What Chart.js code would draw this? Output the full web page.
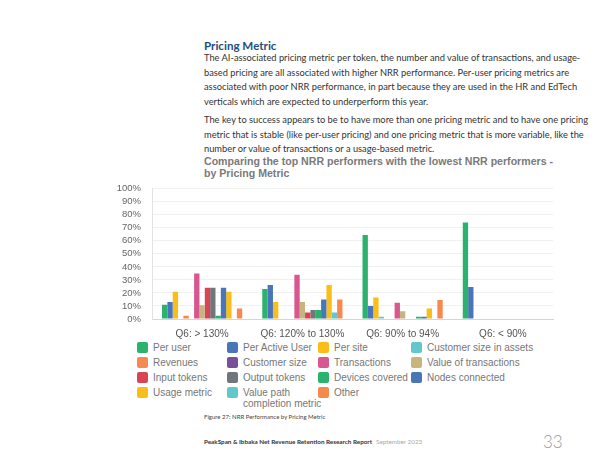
<!DOCTYPE html>
<html>
<head>
<meta charset="utf-8">
<script src="https://cdn.jsdelivr.net/npm/chart.js@4.4.1/dist/chart.umd.min.js"></script>
<style>
  body { margin: 0; background: #fff; }
  #page { position: relative; width: 600px; height: 463px; overflow: hidden; font-family: Lato, "Open Sans", sans-serif; }
  .abs { position: absolute; white-space: nowrap; }
  #heading { left: 204px; top: 39px; font-size: 11.6px; line-height: 14px; font-weight: bold; color: #1d4f7f; }
  .para { left: 204px; font-size: 9.3px; line-height: 14.6px; color: #333; }
  #chartTitle { left: 204px; top: 155px; font-family: "Liberation Sans", Arial, sans-serif; font-size: 10.6px; line-height: 12px; font-weight: bold; color: #7a7a7a; }
  #wrap { position: absolute; left: 100px; top: 172px; width: 460px; height: 170px; }
  .lg { position: absolute; display: flex; align-items: flex-start; font-family: "Liberation Sans", Arial, sans-serif; font-size: 10px; line-height: 11px; color: #777; }
  .lg .sw { width: 11px; height: 11px; border-radius: 2px; flex: none; margin-right: 5px; }
  .lg .tx { white-space: normal; }
  #caption { left: 204px; top: 413px; font-size: 6px; line-height: 8px; color: #444; }
  #footer { left: 204px; top: 438px; font-size: 6.3px; line-height: 8px; color: #333; font-weight: bold; }
  #footer span { font-weight: normal; color: #aaa; margin-left: 4px; }
  #pageNo { left: 543px; top: 432px; font-size: 17px; line-height: 20px; color: #999; font-weight: 300; }
</style>
</head>
<body>
<div id="page">
  <div id="heading" class="abs">Pricing Metric</div>
  <div class="abs para" style="top:51px">The AI-associated pricing metric per token, the number and value of transactions, and usage-<br>based pricing are all associated with higher NRR performance. Per-user pricing metrics are<br>associated with poor NRR performance, in part because they are used in the HR and EdTech<br>verticals which are expected to underperform this year.</div>
  <div class="abs para" style="top:113px">The key to success appears to be to have more than one pricing metric and to have one pricing<br>metric that is stable (like per-user pricing) and one pricing metric that is more variable, like the<br>number or value of transactions or a usage-based metric.</div>
  <div id="chartTitle" class="abs">Comparing the top NRR performers with the lowest NRR performers -<br>by Pricing Metric</div>
  <div id="wrap"><canvas id="chart"></canvas></div>
  <div id="legend"></div>
  <div id="caption" class="abs">Figure 27: NRR Performance by Pricing Metric</div>
  <div id="footer" class="abs">PeakSpan &amp; Ibbaka Net Revenue Retention Research Report<span>September 2023</span></div>
  <div id="pageNo" class="abs">33</div>
</div>
<script>
// Categories (NRR groups)
const categories = ["Q6: > 130%", "Q6: 120% to 130%", "Q6: 90% to 94%", "Q6: < 90%"];

// Pricing metrics (series)
const metrics = [
  "Per user", "Per Active User", "Per site", "Customer size in assets",
  "Revenues", "Customer size", "Transactions", "Value of transactions",
  "Input tokens", "Output tokens", "Devices covered", "Nodes connected",
  "Usage metric", "Value path completion metric", "Other",
];
const metricColors = [
  "#2bb26c", "#4a76b9", "#fbbd18", "#62c7cc",
  "#f5894f", "#794f99", "#d9578f", "#c8b47f",
  "#d94455", "#6f777d", "#2bb26c", "#4a76b9",
  "#fbbd18", "#62c7cc", "#f5894f",
];

// Share of respondents (%) per metric, one array per NRR group
const gt130 = [11, 13, 21, 0, 2.5, 0, 35, 10.5, 24, 24, 2.5, 24, 21, 0, 8];
const from120to130 = [23, 26, 13, 0, 0, 0, 34, 13, 5, 7, 7, 15, 26, 5, 15];
const from90to94 = [64.5, 10, 16.5, 1.7, 0, 0, 12.5, 6, 0, 0, 1.7, 1.7, 8, 0, 14.5];
const lt90 = [74, 24.5, 0, 0, 0, 0, 0, 0, 0, 0, 0, 0, 0, 0, 0];

const groups = [gt130, from120to130, from90to94, lt90];

Chart.defaults.font.family = '"Liberation Sans", Arial, sans-serif';

const datasets = metrics.map((label, i) => ({
  label: label,
  data: groups.map((g) => g[i]),
  backgroundColor: metricColors[i],
  borderWidth: 0,
  categoryPercentage: 0.8,
  barPercentage: 1.0,
}));

const ctx = document.getElementById("chart").getContext("2d");
const chart = new Chart(ctx, {
  type: "bar",
  data: { labels: categories, datasets: datasets },
  options: {
    responsive: true,
    maintainAspectRatio: false,
    animation: false,
    layout: { padding: { top: 10, right: 7, bottom: 0, left: 0 } },
    plugins: { legend: { display: false }, tooltip: { enabled: false } },
    scales: {
      x: {
        grid: { display: false, drawTicks: false },
        border: { color: "#d6d6d6" },
        ticks: { color: "#555", font: { size: 10 }, padding: 9 },
        afterFit: (scale) => { scale.height = 23; },
      },
      y: {
        min: 0,
        max: 100,
        ticks: { stepSize: 10, autoSkip: false, color: "#666", font: { size: 9.5 }, padding: 11, callback: (v) => v + "%" },
        grid: { color: "#f0f0f0", drawTicks: false },
        border: { color: "#e2e2e2" },
        afterFit: (scale) => { scale.width = 52; },
      },
    },
  },
});

// HTML legend in a 4-column grid
const colLeft = [137, 227, 318, 411];
const colWidth = [82, 82, 82, 135];
const legend = document.getElementById("legend");
metrics.forEach((label, i) => {
  const row = Math.floor(i / 4);
  const col = i % 4;
  const item = document.createElement("div");
  item.className = "lg";
  item.style.left = colLeft[col] + "px";
  item.style.top = (341.5 + row * 15.3) + "px";
  item.innerHTML = '<div class="sw" style="background:' + metricColors[i] + '"></div><div class="tx" style="width:' + colWidth[col] + 'px">' + label + "</div>";
  legend.appendChild(item);
});
</script>
</body>
</html>
